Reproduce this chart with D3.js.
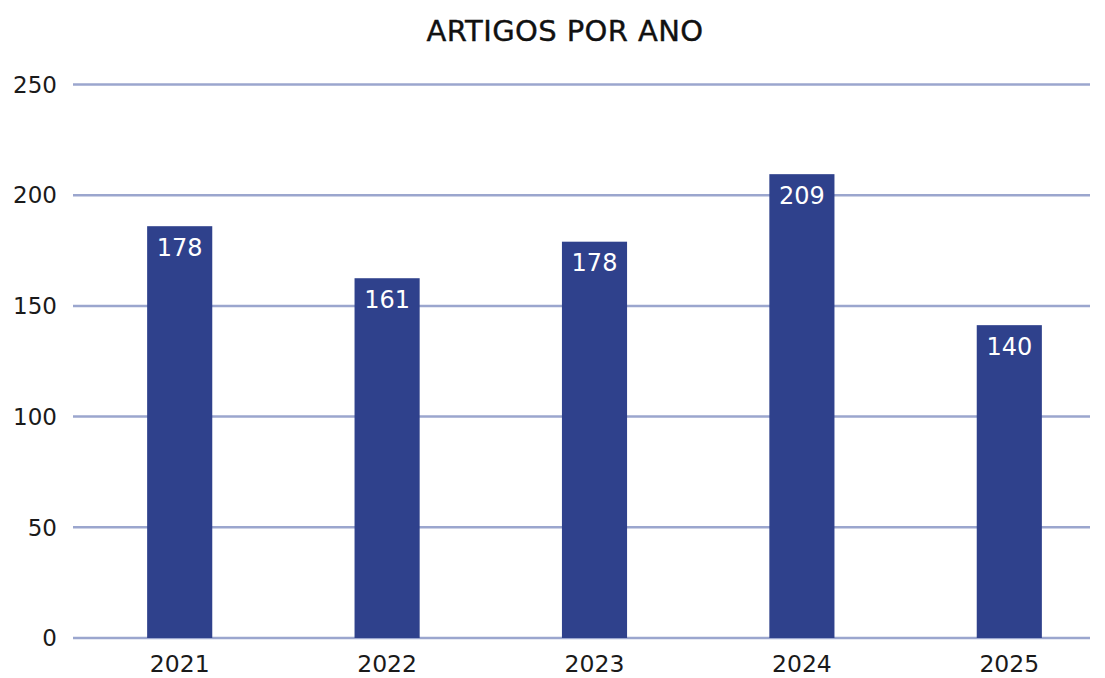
<!DOCTYPE html>
<html>
  <head>
    <title>artigos por ano</title>
    <meta charset="UTF-8" />
    <script src="https://d3js.org/d3.v7.min.js"></script>
    <style>
        body { margin: 0; background: #fff; }
        text { font-family: "DejaVu Sans", "Noto Sans", sans-serif; }
        .bar { fill: #2f418c; }
    </style>
  </head>
  <body>
    <script>
        // data
        var years = ["2021", "2022", "2023", "2024", "2025"];
        var values = [186, 162.5, 179, 209.5, 141.3];   // bar heights as drawn
        var labels = ["178", "161", "178", "209", "140"]; // numbers printed on the bars
        var yTicks = [0, 50, 100, 150, 200, 250];

        var width = 1105, height = 678;
        var margin = { left: 73, right: 15, top: 84.5, bottom: 40 };

        var svg = d3.select("body")
            .append("svg")
            .attr("width", width)
            .attr("height", height);

        var xScale = d3.scaleBand()
            .domain(years)
            .range([76, 1113])
            .paddingInner(0.686)
            .paddingOuter(0.343);

        var yScale = d3.scaleLinear()
            .domain([0, 250])
            .range([638, margin.top]);

        // grid lines
        svg.append("g")
            .selectAll("line")
            .data(yTicks)
            .enter()
            .append("line")
            .attr("x1", margin.left)
            .attr("x2", width - margin.right)
            .attr("y1", d => yScale(d))
            .attr("y2", d => yScale(d))
            .attr("stroke", "#9ba6ce")
            .attr("stroke-width", 2.5);

        // y labels
        svg.append("g")
            .selectAll("text")
            .data(yTicks)
            .enter()
            .append("text")
            .attr("x", 57)
            .attr("y", d => yScale(d))
            .attr("dy", "0.36em")
            .attr("text-anchor", "end")
            .attr("font-size", 23)
            .attr("fill", "#1a1a1a")
            .text(d => d);

        // bars
        svg.selectAll("rect")
            .data(values)
            .enter()
            .append("rect")
            .attr("class", "bar")
            .attr("x", (d, i) => xScale(years[i]))
            .attr("width", xScale.bandwidth())
            .attr("y", d => yScale(d))
            .attr("height", d => yScale(0) - yScale(d));

        // value labels
        svg.append("g")
            .selectAll("text")
            .data(values)
            .enter()
            .append("text")
            .attr("x", (d, i) => xScale(years[i]) + xScale.bandwidth() / 2)
            .attr("y", d => yScale(d) + 29.5)
            .attr("text-anchor", "middle")
            .attr("font-size", 24)
            .attr("fill", "#ffffff")
            .text((d, i) => labels[i]);

        // x labels
        svg.append("g")
            .selectAll("text")
            .data(years)
            .enter()
            .append("text")
            .attr("x", d => xScale(d) + xScale.bandwidth() / 2)
            .attr("y", 672)
            .attr("text-anchor", "middle")
            .attr("font-size", 23.5)
            .attr("fill", "#1a1a1a")
            .text(d => d);

        // title
        svg.append("text")
            .attr("x", 565)
            .attr("y", 41)
            .attr("text-anchor", "middle")
            .attr("font-size", 29)
            .attr("letter-spacing", 0.4)
            .attr("fill", "#111")
            .attr("stroke", "#111")
            .attr("stroke-width", 0.4)
            .text("ARTIGOS POR ANO");
    </script>
  </body>
</html>
